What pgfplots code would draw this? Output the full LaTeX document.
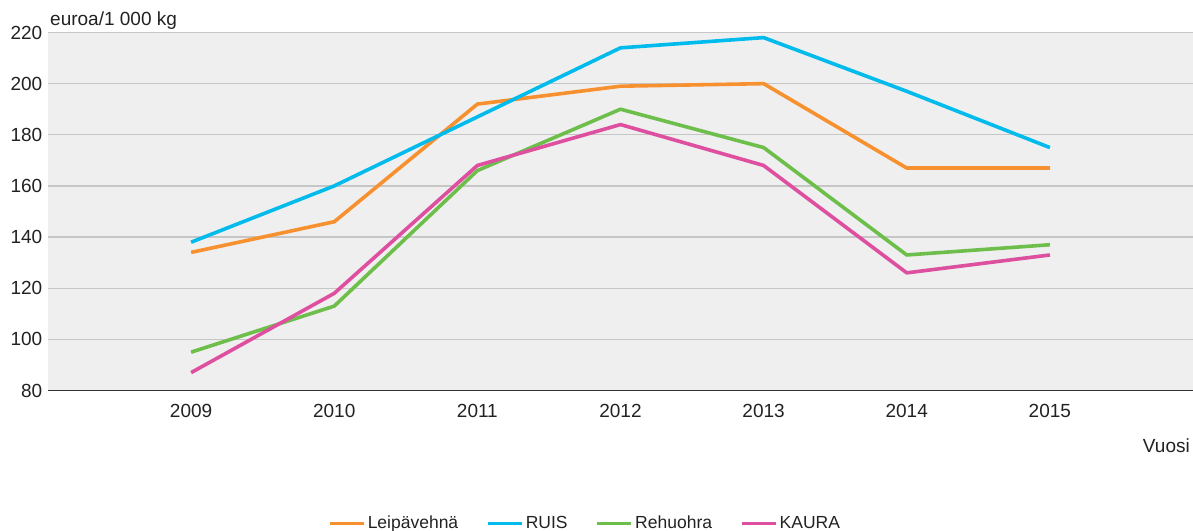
\documentclass[border=0pt]{standalone}
\usepackage{pgfplots}
\pgfplotsset{compat=1.18}
\usepackage{fontspec}
\setmainfont{Liberation Sans}
\definecolor{cOr}{RGB}{247,145,47}
\definecolor{cBl}{RGB}{0,187,236}
\definecolor{cGr}{RGB}{109,190,75}
\definecolor{cMa}{RGB}{223,79,160}
\definecolor{bgc}{RGB}{239,239,239}
\definecolor{gridc}{RGB}{198,198,198}
\definecolor{txt}{RGB}{34,34,34}
\begin{document}
\fontsize{19bp}{23bp}\selectfont
\begin{tikzpicture}
\useasboundingbox (-48bp,-140.5bp) rectangle (1145bp,390.5bp);
\begin{axis}[
  at={(0,0)}, anchor=south west,
  scale only axis, width=1145bp, height=358bp,
  xmin=2008, xmax=2016, ymin=80, ymax=220,
  xtick={2009,2010,2011,2012,2013,2014,2015},
  ytick={80,100,120,140,160,180,200,220},
  /pgf/number format/assume math mode=true,
  x tick label style={/pgf/number format/1000 sep={}, anchor=base, yshift=-26.5bp, font=\fontsize{19bp}{23bp}\selectfont, text=txt},
  y tick label style={font=\fontsize{19bp}{23bp}\selectfont, text=txt, inner xsep=5.5bp},
  axis background/.style={fill=bgc},
  ymajorgrids, grid style={gridc, line width=1.3bp},
  major tick length=0pt, tick style={draw=none},
  axis x line*=bottom, axis y line*=left,
  x axis line style={-, draw=black!80, line width=1.5bp},
  y axis line style={draw=none},
  clip=false,
  legend columns=4,
  legend style={at={(0.2445,-0.372)}, anchor=west, draw=none, fill=none, inner sep=0pt,
    font=\fontsize{17.5bp}{21bp}\selectfont, text=txt,
    /tikz/every even column/.append style={column sep=26bp}},
  legend image code/.code={\draw[#1] (0bp,0bp) -- (34bp,0bp);},
  every axis plot/.append style={line width=3.6bp, line join=round},
]
\addplot[cOr] coordinates {(2009,134) (2010,146) (2011,192) (2012,199) (2013,200) (2014,167) (2015,167)};
\addlegendentry{Leipävehnä}
\addplot[cBl] coordinates {(2009,138) (2010,160) (2011,187) (2012,214) (2013,218) (2014,197) (2015,175)};
\addlegendentry{RUIS}
\addplot[cGr] coordinates {(2009,95) (2010,113) (2011,166) (2012,190) (2013,175) (2014,133) (2015,137)};
\addlegendentry{Rehuohra}
\addplot[cMa] coordinates {(2009,87) (2010,118) (2011,168) (2012,184) (2013,168) (2014,126) (2015,133)};
\addlegendentry{KAURA}
\node[anchor=base west, inner sep=0pt, text=txt] at (rel axis cs:0,1) [xshift=2bp, yshift=6.5bp] {euroa/1 000 kg};
\node[anchor=base east, inner sep=0pt, text=txt] at (rel axis cs:1,0) [xshift=-3bp, yshift=-61.5bp] {Vuosi};
\end{axis}
\end{tikzpicture}
\end{document}
